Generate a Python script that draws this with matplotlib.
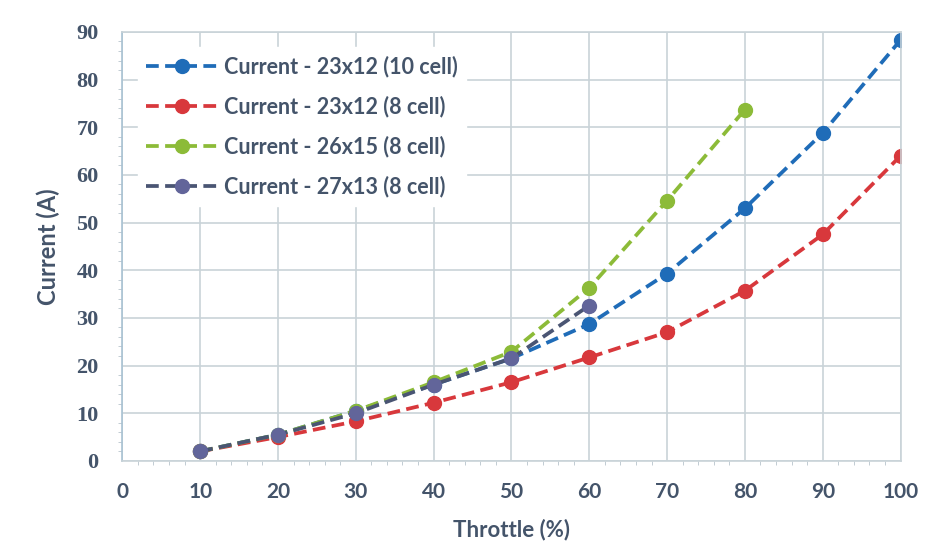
import matplotlib.pyplot as plt
from matplotlib.ticker import MultipleLocator

throttle = [10, 20, 30, 40, 50, 60, 70, 80, 90, 100]
cur_23x12_10 = [2, 5.5, 10.5, 16, 21.5, 28.7, 39.3, 53, 68.8, 88.3]
cur_23x12_8 = [2, 5, 8.3, 12.2, 16.5, 21.7, 27, 35.7, 47.5, 64]
cur_26x15_8 = [2, 5.5, 10.5, 16.5, 22.9, 36.3, 54.6, 73.7]
cur_27x13_8 = [2, 5.5, 10, 16, 21.5, 32.6]

labels = ["Current - 23x12 (10 cell)", "Current - 23x12 (8 cell)",
          "Current - 26x15 (8 cell)", "Current - 27x13 (8 cell)"]
colors = ["#1f6cb8", "#d8383c", "#8cbb38", "#4a5573"]
marker_colors = ["#1f6cb8", "#d8383c", "#8cbb38", "#62659a"]
series = [cur_23x12_10, cur_23x12_8, cur_26x15_8, cur_27x13_8]

text_col = "#44546a"
grid_col = "#c9d3d8"

fig = plt.figure(figsize=(9.41, 5.6), dpi=100)
ax = fig.add_axes([0.13, 0.177, 0.827, 0.766])

for ys, lab, c, mc in zip(series, labels, colors, marker_colors):
    ax.plot(throttle[:len(ys)], ys, linestyle=(0, (3.4, 1.7)), color=c, linewidth=2.7,
            marker="o", markersize=10, markerfacecolor=mc, markeredgecolor=mc, label=lab)

ax.set_xlim(0, 100)
ax.set_ylim(0, 90)
ax.xaxis.set_major_locator(MultipleLocator(10))
ax.yaxis.set_major_locator(MultipleLocator(10))
ax.xaxis.set_minor_locator(MultipleLocator(2))
ax.yaxis.set_minor_locator(MultipleLocator(2))
ax.grid(True, which="major", color=grid_col, linewidth=1.2)
ax.set_axisbelow(True)
for s in ax.spines.values():
    s.set_color(grid_col)
    s.set_linewidth(1.2)
ax.spines["left"].set_color("#a9c2d3")
ax.tick_params(which="major", length=0)
ax.tick_params(axis="x", which="major", pad=15)
ax.tick_params(axis="y", which="major", pad=17)
ax.tick_params(which="minor", length=3, color="#b8c4cc")

for t in ax.get_xticklabels():
    t.set_fontfamily("Lato")
    t.set_fontweight("bold")
    t.set_fontsize(15)
    t.set_color(text_col)
for t in ax.get_yticklabels():
    t.set_fontfamily("Liberation Serif")
    t.set_fontweight("bold")
    t.set_fontsize(16)
    t.set_color(text_col)

ax.set_xlabel("Throttle (%)", fontsize=16, fontweight="bold", color=text_col,
              fontfamily="Lato", labelpad=12)
ax.set_ylabel("Current (A)", fontsize=17, fontweight="bold", color=text_col,
              fontfamily="Lato", labelpad=12)

leg = ax.legend(loc="upper left", bbox_to_anchor=(0.006, 0.99), frameon=True,
                facecolor="white", edgecolor="white", framealpha=1, fancybox=False,
                handlelength=3.3, handletextpad=0.3, labelspacing=0.85, borderpad=0.4,
                prop={"family": "Lato", "weight": "bold", "size": 15.5})
for t in leg.get_texts():
    t.set_color(text_col)

fig.savefig("out.png", dpi=100, facecolor="white")
